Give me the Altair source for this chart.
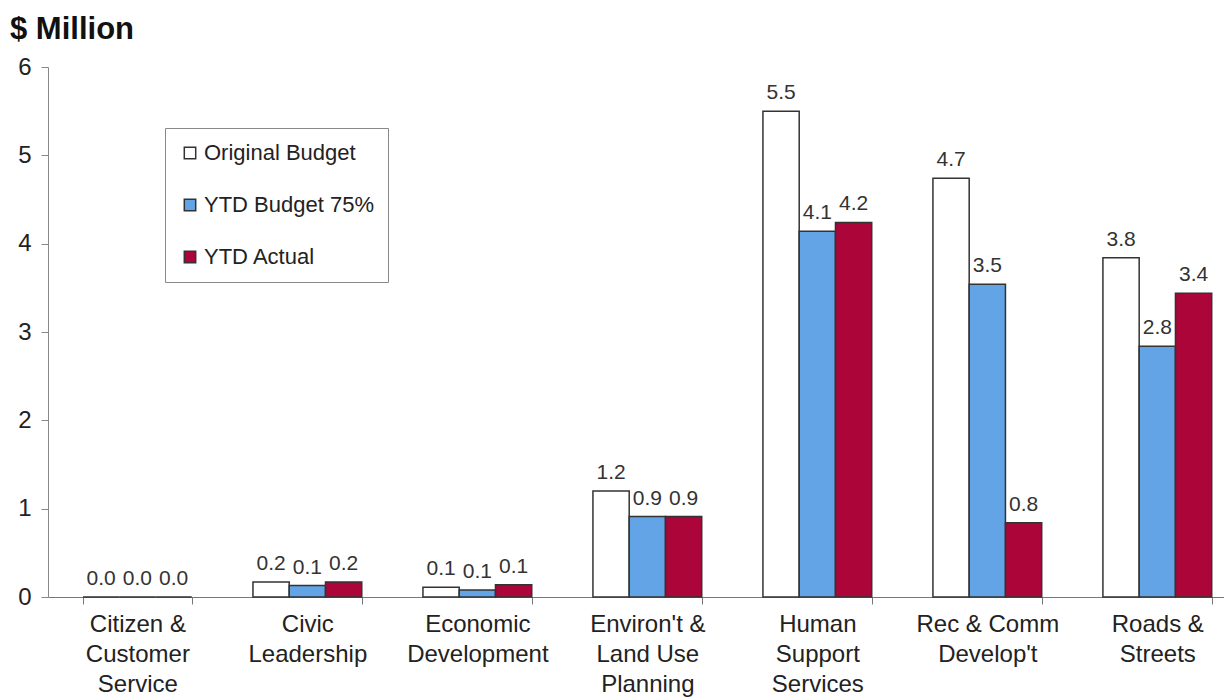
import altair as alt
import pandas as pd

categories = [
    "Citizen &\nCustomer\nService",
    "Civic\nLeadership",
    "Economic\nDevelopment",
    "Environ't &\nLand Use\nPlanning",
    "Human\nSupport\nServices",
    "Rec & Comm\nDevelop't",
    "Roads &\nStreets",
]
series = ["Original Budget", "YTD Budget 75%", "YTD Actual"]
original_budget = [0.0, 0.17, 0.11, 1.2, 5.5, 4.74, 3.84]
ytd_budget = [0.0, 0.13, 0.08, 0.91, 4.14, 3.54, 2.84]
ytd_actual = [0.0, 0.17, 0.14, 0.91, 4.24, 0.84, 3.44]
colors = ["#ffffff", "#62a4e6", "#ab0539"]
title_text = ["$ Million"]

rows = []
for s, vals in zip(series, [original_budget, ytd_budget, ytd_actual]):
    for c, v in zip(categories, vals):
        rows.append({"category": c, "series": s, "value": v})
df = pd.DataFrame(rows)

FONT = "Liberation Sans"

x_enc = alt.X(
    "category:N",
    sort=categories,
    scale=alt.Scale(paddingInner=0.36, paddingOuter=0.139, align=0.74),
    axis=alt.Axis(
        title=None,
        labelAngle=0,
        labelExpr="isValid(datum.value) ? split(datum.value, '\\n') : ''",
        labelFontSize=24,
        labelFont=FONT,
        labelColor="#222222",
        labelLineHeight=30,
        labelPadding=8,
        labelBaseline="top",
        tickBand="extent",
        tickSize=7,
        tickColor="#777777",
        domainColor="#777777",
    ),
)
xoff = alt.XOffset("series:N", sort=series, scale=alt.Scale(domain=series))

bars = alt.Chart(df).mark_bar(stroke="#333333", strokeWidth=1.5).encode(
    x=x_enc,
    xOffset=xoff,
    y=alt.Y(
        "value:Q",
        scale=alt.Scale(domain=[0, 6], nice=False),
        axis=alt.Axis(
            title=None,
            values=[0, 1, 2, 3, 4, 5, 6],
            format="d",
            grid=False,
            labelFontSize=24,
            labelFont=FONT,
            labelColor="#222222",
            labelPadding=10,
            tickSize=7,
            tickColor="#888888",
            domainColor="#888888",
        ),
    ),
    color=alt.Color(
        "series:N",
        sort=series,
        scale=alt.Scale(domain=series, range=colors),
        legend=alt.Legend(
            title=None,
            orient="none",
            legendX=117,
            legendY=61,
            symbolType="square",
            symbolSize=130,
            symbolStrokeColor="#333333",
            symbolStrokeWidth=1.5,
            labelFontSize=22,
            labelFont=FONT,
            labelColor="#222222",
            labelLimit=400,
            rowPadding=30,
            padding=14,
            labelOffset=3,
            strokeColor="#888888",
            fillColor="#ffffff",
        ),
    ),
)

labels = alt.Chart(df).mark_text(
    baseline="bottom", dy=-8, fontSize=21, font=FONT, color="#333333"
).encode(
    x=alt.X("category:N", sort=categories),
    xOffset=xoff,
    y="value:Q",
    text=alt.Text("value:Q", format=".1f"),
)

title = alt.Chart(pd.DataFrame({"t": title_text})).mark_text(
    align="left", baseline="alphabetic", fontSize=31, fontWeight="bold",
    font=FONT, color="#111111"
).encode(x=alt.value(-38), y=alt.value(-28), text="t:N")

chart = (
    alt.layer(bars, labels, title)
    .properties(
        width=1176,
        height=530,
        padding={"left": 48, "top": 67, "right": 0, "bottom": 102},
        autosize=alt.AutoSizeParams(type="none"),
    )
    .configure_view(stroke=None)
)

chart.save("out.html", embed_options={"renderer": "svg", "actions": False})
